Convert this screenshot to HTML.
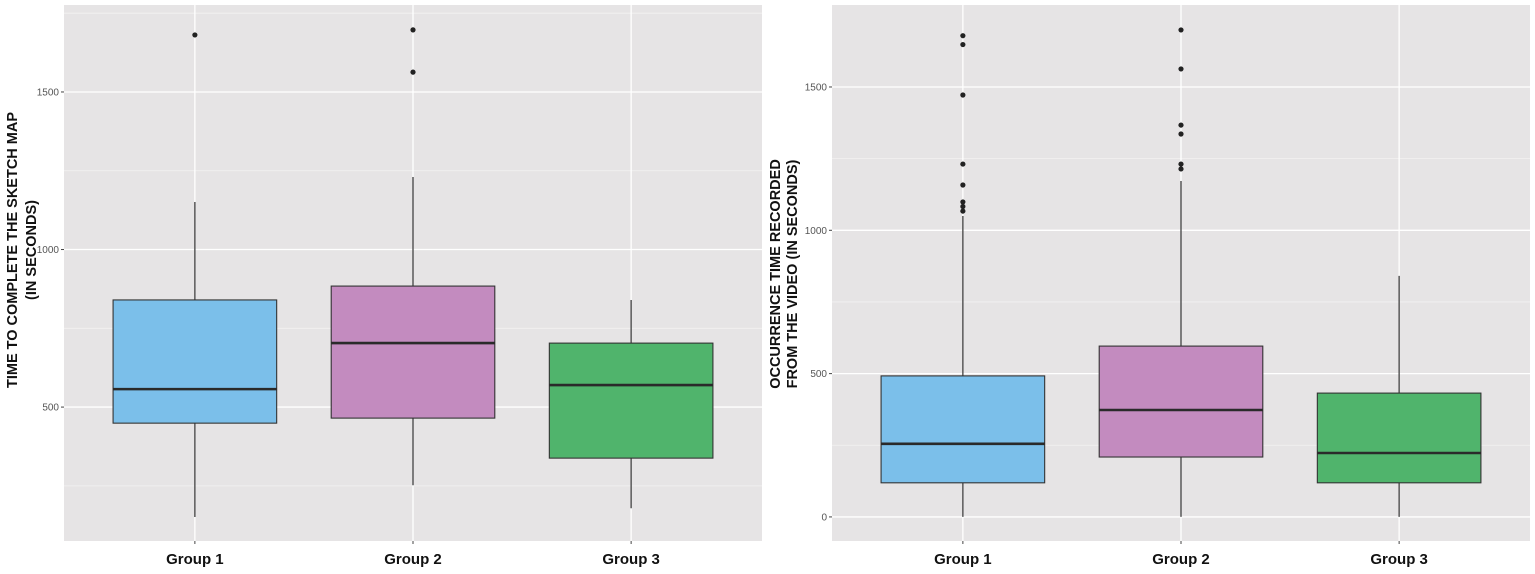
<!DOCTYPE html>
<html><head><meta charset="utf-8"><style>
html,body{margin:0;padding:0;background:#fff;}
svg{display:block;}
text{font-family:"Liberation Sans",sans-serif;}
</style></head><body>
<svg id="chart" width="1535" height="574"></svg>
<script>
const categories = ["Group 1","Group 2","Group 3"];
const colors = ["#7bbfea","#c38bbf","#50b46c"];
// left chart: [lowerWhisker, Q1, median, Q3, upperWhisker]
const leftStats = [[151,449,557,840,1151],[252,465,703,884,1230],[179,338,570,703,840]];
const leftOutliers = [[1681],[1697,1563],[]];
const leftTicks = [500,1000,1500];
const leftMinor = [250,750,1250,1750];
const rightStats = [[0,119,255,492,1050],[0,209,373,596,1172],[0,119,223,432,841]];
const rightOutliers = [[1679,1648,1472,1231,1158,1099,1083,1067],[1699,1563,1367,1336,1231,1214],[]];
const rightTicks = [0,500,1000,1500];
const rightMinor = [250,750,1250];

const NS="http://www.w3.org/2000/svg";
const svg=document.getElementById('chart');
function el(tag,attrs,parent){const e=document.createElementNS(NS,tag);for(const k in attrs)e.setAttribute(k,attrs[k]);(parent||svg).appendChild(e);return e;}

function panel(cfg){
  const g=el('g',{});
  
  
  const {x0,x1,y0,y1,vmin,vmax}=cfg;
  const y=v=>y1-(v-vmin)/(vmax-vmin)*(y1-y0);
  const step=(x1-x0)/(categories.length+0.2);
  const xc=i=>x0+step*(i+0.6);
  const bg=el('rect',{x:x0,y:y0,width:x1-x0,height:y1-y0,fill:'#e6e4e5'},g);
  
  
  cfg.minor.forEach(v=>{const l=el('line',{x1:x0,x2:x1,y1:y(v),y2:y(v),stroke:'#f3f2f2','stroke-width':0.8},g);
    });
  cfg.ticks.forEach(v=>{const l=el('line',{x1:x0,x2:x1,y1:y(v),y2:y(v),stroke:'#fff','stroke-width':1.3},g);
    
    const tk=el('line',{x1:x0-3,x2:x0,y1:y(v),y2:y(v),stroke:'#444','stroke-width':1},g);
    
    const t=el('text',{x:x0-5,y:y(v)+3.5,'text-anchor':'end','font-size':10,fill:'#555'},g);
    t.textContent=v;});
  categories.forEach((c,i)=>{
    const vl=el('line',{x1:xc(i),x2:xc(i),y1:y0,y2:y1,stroke:'#fff','stroke-width':1.3},g);
    
    const s=cfg.stats[i];const bw=step*0.75;
    const w=el('line',{x1:xc(i),x2:xc(i),y1:y(s[0]),y2:y(s[4]),stroke:'#333','stroke-width':1.2},g);
    
    const b=el('rect',{x:xc(i)-bw/2,y:y(s[3]),width:bw,height:y(s[1])-y(s[3]),fill:colors[i],stroke:'#333','stroke-width':1.1},g);
    
    const m=el('line',{x1:xc(i)-bw/2,x2:xc(i)+bw/2,y1:y(s[2]),y2:y(s[2]),stroke:'#2a2a2a','stroke-width':2.6},g);
    
    cfg.outliers[i].forEach(v=>{const p=el('circle',{cx:xc(i),cy:y(v),r:2.6,fill:'#222'},g);
      });
    const xt=el('line',{x1:xc(i),x2:xc(i),y1:y1,y2:y1+3,stroke:'#444'},g);
    
    const t=el('text',{x:xc(i),y:y1+23,'text-anchor':'middle','font-size':15,'font-weight':'bold',fill:'#111'},g);
    t.textContent=c;
  });
  cfg.title.forEach((line,k)=>{
    const tx=cfg.titleX[k],ty=cfg.titleY;
    const t=el('text',{x:tx,y:ty,'text-anchor':'middle','font-size':14.5,'font-weight':'bold',fill:'#111',transform:`rotate(-90 ${tx} ${ty})`},g);
    t.textContent=line;
  });
}
panel({name:'left-panel',x0:64,x1:762,y0:5,y1:541,vmin:75,vmax:1776,stats:leftStats,outliers:leftOutliers,ticks:leftTicks,minor:leftMinor,
  title:['TIME TO COMPLETE THE SKETCH MAP','(IN SECONDS)'],titleX:[17,36],titleY:250});
panel({name:'right-panel',x0:832,x1:1530,y0:5,y1:541,vmin:-84,vmax:1786,stats:rightStats,outliers:rightOutliers,ticks:rightTicks,minor:rightMinor,
  title:['OCCURRENCE TIME RECORDED','FROM THE VIDEO (IN SECONDS)'],titleX:[780,797],titleY:274});
</script>
</body></html>
